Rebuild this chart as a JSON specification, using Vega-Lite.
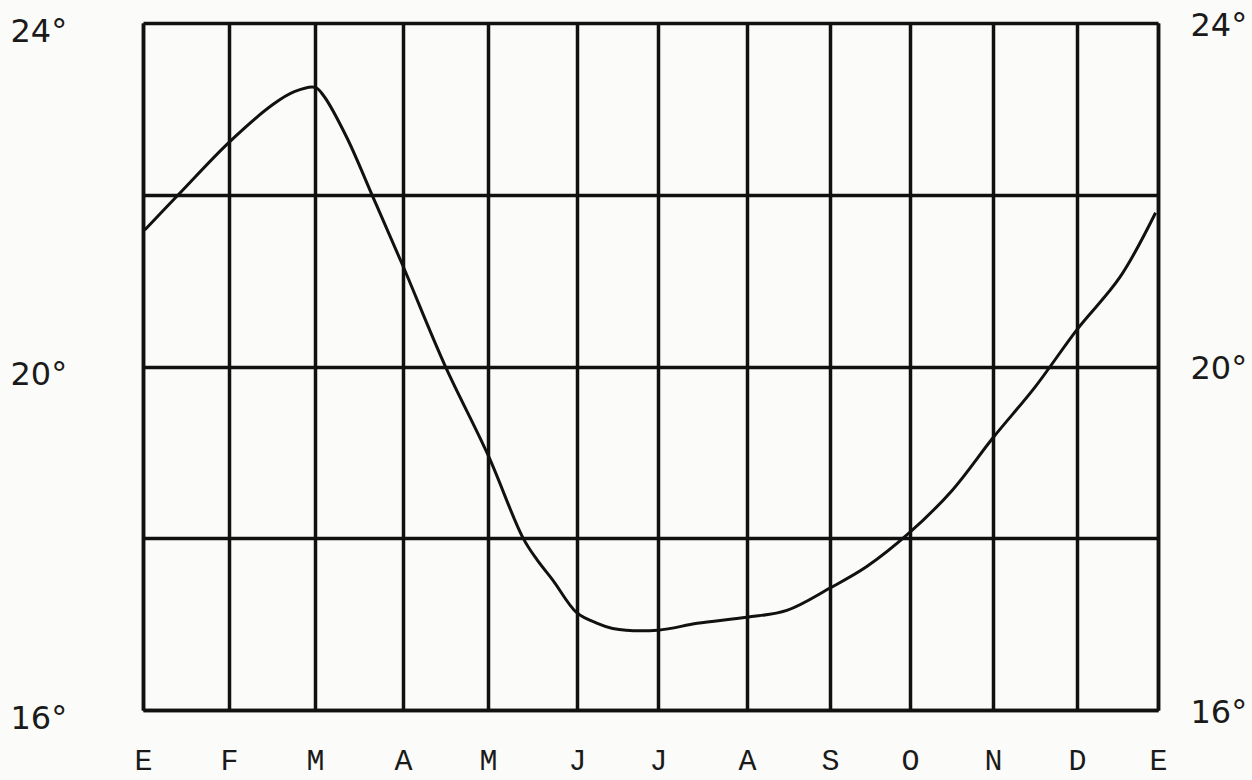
{
  "$schema": "https://vega.github.io/schema/vega-lite/v6.json",
  "width": 1015,
  "height": 687,
  "autosize": {"type": "none"},
  "padding": {"left": 143, "top": 23, "right": 94, "bottom": 70},
  "background": "#fbfbf9",
  "config": {"view": {"stroke": null}},
  "data": {"values": [
    {"m": 0.02, "t": 21.59},
    {"m": 0.43, "t": 22.02},
    {"m": 1, "t": 22.61},
    {"m": 1.51, "t": 23.05},
    {"m": 1.76, "t": 23.2},
    {"m": 2, "t": 23.25},
    {"m": 2.1, "t": 23.15},
    {"m": 2.36, "t": 22.67},
    {"m": 2.66, "t": 21.97},
    {"m": 3, "t": 21.17},
    {"m": 3.49, "t": 20.02},
    {"m": 4, "t": 18.97},
    {"m": 4.39, "t": 18.01},
    {"m": 4.55, "t": 17.75},
    {"m": 4.73, "t": 17.51},
    {"m": 5, "t": 17.13},
    {"m": 5.25, "t": 17.01},
    {"m": 5.44, "t": 16.95},
    {"m": 6, "t": 16.93},
    {"m": 6.44, "t": 17.01},
    {"m": 7, "t": 17.08},
    {"m": 7.48, "t": 17.16},
    {"m": 8, "t": 17.42},
    {"m": 8.46, "t": 17.67},
    {"m": 9, "t": 18.07},
    {"m": 9.51, "t": 18.56},
    {"m": 10, "t": 19.17},
    {"m": 10.5, "t": 19.76},
    {"m": 11, "t": 20.43},
    {"m": 11.53, "t": 21.04},
    {"m": 11.97, "t": 21.79}
  ]},
  "layer": [
    {
      "mark": {"type": "line", "color": "#111111", "strokeWidth": 3, "interpolate": "catmull-rom"},
      "encoding": {
        "x": {
          "field": "m", "type": "quantitative",
          "scale": {"domain": [0,1,2,3,4,5,6,7,8,9,10,11,12], "range": [0,86,172,260,345,434,515,604,687,767,850,934,1015], "nice": false, "zero": false},
          "axis": {
            "title": null, "values": [0,1,2,3,4,5,6,7,8,9,10,11,12],
            "labelExpr": "['E','F','M','A','M','J','J','A','S','O','N','D','E'][datum.value]",
            "grid": true, "gridColor": "#111111", "gridWidth": 3.5, "gridOpacity": 1,
            "domain": true, "domainColor": "#111111", "domainWidth": 3.5,
            "ticks": false, "tickSize": 0, "labelPadding": 50,
            "labelFont": "Liberation Mono", "labelFontSize": 30, "labelColor": "#1a1a1a",
            "labelBaseline": "middle", "labelFlush": false
          }
        },
        "y": {
          "field": "t", "type": "quantitative",
          "scale": {"domain": [16, 24], "nice": false, "zero": false},
          "axis": {
            "title": null, "orient": "left", "values": [16, 18, 20, 22, 24],
            "labelExpr": "datum.value % 4 == 0 ? datum.value + '°' : ''",
            "grid": true, "gridColor": "#111111", "gridWidth": 3.5, "gridOpacity": 1,
            "domain": true, "domainColor": "#111111", "domainWidth": 3.5,
            "ticks": false, "tickSize": 0, "labelPadding": 133, "labelAlign": "left",
            "labelFont": "DejaVu Sans", "labelFontSize": 32, "labelColor": "#1a1a1a",
            "labelBaseline": "middle", "labelFlush": false, "labelOffset": 8
          }
        }
      }
    },
    {
      "mark": {"type": "line", "opacity": 0},
      "encoding": {
        "x": {"field": "m", "type": "quantitative", "scale": {"domain": [0,1,2,3,4,5,6,7,8,9,10,11,12], "range": [0,86,172,260,345,434,515,604,687,767,850,934,1015], "nice": false, "zero": false}},
        "y": {
          "field": "t", "type": "quantitative",
          "scale": {"domain": [16, 24], "nice": false, "zero": false},
          "axis": {
            "title": null, "orient": "right", "values": [16, 18, 20, 22, 24],
            "labelExpr": "datum.value % 4 == 0 ? datum.value + '°' : ''",
            "grid": false,
            "domain": true, "domainColor": "#111111", "domainWidth": 3.5,
            "ticks": false, "tickSize": 0, "labelPadding": 32,
            "labelFont": "DejaVu Sans", "labelFontSize": 32, "labelColor": "#1a1a1a",
            "labelBaseline": "middle", "labelFlush": false, "labelOffset": 2
          }
        }
      }
    }
  ],
  "resolve": {"scale": {"y": "independent"}}
}
